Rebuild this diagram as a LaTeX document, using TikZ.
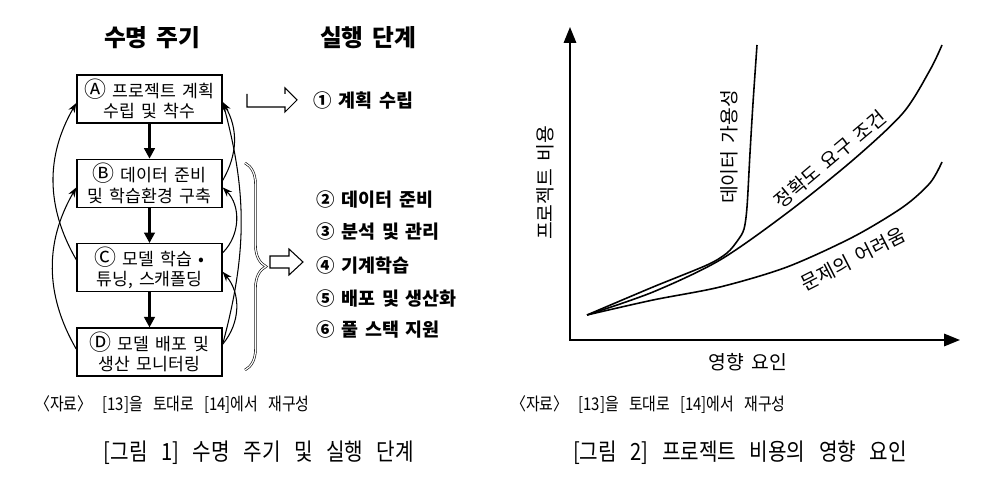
\documentclass[tikz,border=0pt]{standalone}
\usepackage{fontspec}
\setmainfont[WordSpace=1.6]{Noto Sans CJK KR}
\newfontfamily\srcfont[FakeStretch=0.85,WordSpace=1.6]{Noto Sans CJK KR}
\newfontfamily\capfont[FakeStretch=0.85,WordSpace=3]{Noto Sans CJK KR}
\newcommand{\circlt}[1]{{\fontsize{12.5}{11.5}\selectfont #1}}
\usetikzlibrary{arrows.meta,calc,positioning,decorations.pathreplacing}
\definecolor{LineClr}{RGB}{0,0,0}
\definecolor{TextClr}{RGB}{0,0,0}

\begin{document}
\begin{tikzpicture}[x=0.02cm,y=0.02cm,
  stage/.style={draw=LineClr,line width=0.8pt,minimum width=2.9cm,minimum height=0.96cm,
    inner sep=1pt,align=center,text=TextClr,font=\fontsize{9.8}{11.5}\selectfont},
  down/.style={draw=LineClr,line width=1.5pt,-{Triangle[length=6pt,width=6pt]}},
  fb/.style={draw=LineClr,line width=0.6pt,-{Stealth[length=5.5pt,width=4pt]}},
  title/.style={text=TextClr,font=\fontsize{13.5}{15}\selectfont\bfseries},
  phase/.style={anchor=west,text=TextClr,font=\fontsize{10.5}{12}\selectfont\bfseries},
  lbl/.style={text=TextClr,font=\fontsize{11}{13}\selectfont},
  srcnote/.style={anchor=west,text=TextClr,font=\srcfont\fontsize{10}{12}\selectfont},
  figcap/.style={text=TextClr,font=\capfont\fontsize{13.5}{15}\selectfont},
  curve/.style={draw=LineClr,line width=0.9pt,smooth,tension=0.5}]

\useasboundingbox (0,0) rectangle (1000,487);

% life cycle
\node[title] (life) at (152,449) {수명 주기};
\node[title] (exec) at (368,449) {실행 단계};

\node[stage] (A) at (149.5,388) {\circlt{Ⓐ} 프로젝트 계획\\수립 및 착수};
\node[stage,below=0.7cm of A] (B) {\circlt{Ⓑ} 데이터 준비\\및 학습환경 구축};
\node[stage,below=0.7cm of B] (C) {\circlt{Ⓒ} 모델 학습 •\\튜닝, 스캐폴딩};
\node[stage,below=0.7cm of C] (D) {\circlt{Ⓓ} 모델 배포 및\\생산 모니터링};

\draw[down] (A) -- (B);
\draw[down] (B) -- (C);
\draw[down] (C) -- (D);

% feedback
\draw[fb] ($(C.west)+(0,8)$) to[out=120,in=240] ($(A.west)+(0,-4)$);
\draw[fb] ($(D.west)+(0,3)$) to[out=120,in=240] ($(B.west)+(0,-4)$);
\draw[fb] ($(B.east)+(0,3)$) to[out=60,in=-60] ($(A.east)+(0,-3)$);
\draw[fb] ($(C.east)+(0,15)$) to[out=45,in=-45] ($(B.east)+(0,-4)$);
\draw[fb] ($(D.east)+(0,8)$) to[out=50,in=-50] ($(C.east)+(0,-4)$);
\draw[fb] ($(D.east)+(0,8)$) to[out=75,in=-75] ($(A.east)+(0,-3)$);

% phases
\draw[LineClr,line width=0.6pt] (247,393) -- (247,380) -- (285,380) -- (285,375)
  -- (297,387) -- (285,399) -- (285,393);
\node[phase] (s1) at (307,387) {① 계획 수립};

\draw[LineClr,decorate,decoration={brace,amplitude=0.42cm},line width=0.35pt,
  double,double distance=0.7pt] (245,324) -- (245,117);
\draw[LineClr,line width=0.6pt] (270,231) -- (289,231) -- (289,238) -- (303,225)
  -- (289,212) -- (289,219) -- (270,219) -- cycle;

\node[phase] (s2) at (310,287) {② 데이터 준비};
\node[phase] (s3) at (310,255) {③ 분석 및 관리};
\node[phase] (s4) at (310,222) {④ 기계학습};
\node[phase] (s5) at (310,189) {⑤ 배포 및 생산화};
\node[phase] (s6) at (310,158) {⑥ 풀 스택 지원};

% cost graph
\coordinate (O) at (570,147);
\coordinate (Xe) at (960,147);
\coordinate (Ye) at (570,460);
\draw[LineClr,line width=1.1pt,{Triangle[length=9pt,width=7pt]}-{Triangle[length=9pt,width=7pt]}]
  (Ye) -- (O) -- (Xe);

\draw[curve] plot coordinates {(587,172) (653,200) (707,222) (727,234) (738,247)
  (744,258) (747,280) (750,334) (753,384) (757,442)};
\draw[curve] plot coordinates {(587,172) (653,195) (720,227) (787,274) (853,327)
  (903,374) (930,417) (942,442)};
\draw[curve] plot coordinates {(587,172) (653,187) (720,200) (787,220) (853,250)
  (903,280) (930,304) (942,325)};

\node[lbl,rotate=90] (avail) at (729,340) {데이터 가용성};
\node[lbl,rotate=40] (acc) at (830,328) {정확도 요구 조건};
\node[lbl,rotate=27] (diff) at (853,228) {문제의 어려움};
\node[lbl,rotate=90] (ylab) at (545,304) {프로젝트 비용};
\node[lbl] (xlab) at (748,125) {영향 요인};

% captions
\node[srcnote] (src1) at (29,82) {〈자료〉 [13]을 토대로 [14]에서 재구성};
\node[srcnote] (src2) at (505,82) {〈자료〉 [13]을 토대로 [14]에서 재구성};
\node[figcap] (fig1) at (259,34) {[그림 1] 수명 주기 및 실행 단계};
\node[figcap] (fig2) at (740,34) {[그림 2] 프로젝트 비용의 영향 요인};

\end{tikzpicture}
\end{document}
